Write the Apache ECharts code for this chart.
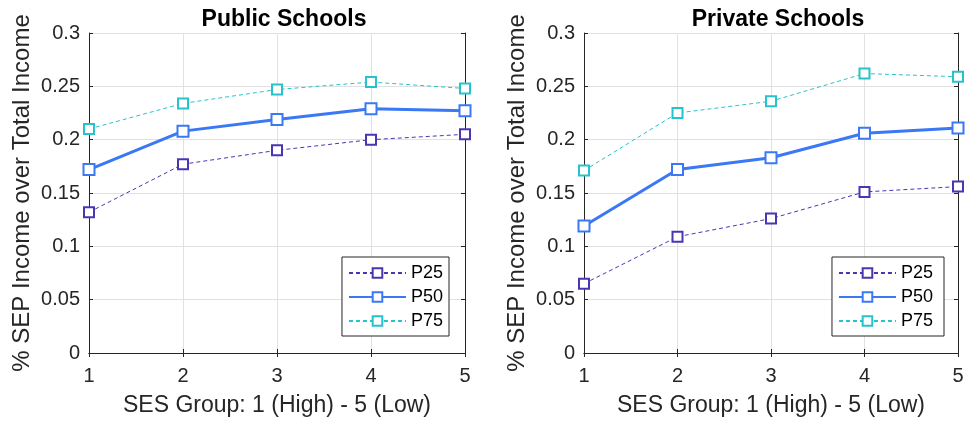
<!DOCTYPE html>
<html><head><meta charset="utf-8">
<script src="https://cdn.jsdelivr.net/npm/echarts@6/dist/echarts.min.js"></script>
<style>html,body{margin:0;padding:0;background:#fff}#c{width:967px;height:422px}</style>
</head><body><div id="c"></div>
<script>
const groups = [1, 2, 3, 4, 5];
const yTicks = [0, 0.05, 0.1, 0.15, 0.2, 0.25, 0.3];
const seriesNames = ['P25', 'P50', 'P75'];
const publicP25 = [0.132, 0.177, 0.190, 0.200, 0.205];
const publicP50 = [0.172, 0.208, 0.219, 0.229, 0.227];
const publicP75 = [0.210, 0.234, 0.247, 0.254, 0.248];
const privateP25 = [0.065, 0.109, 0.126, 0.151, 0.156];
const privateP50 = [0.119, 0.172, 0.183, 0.206, 0.211];
const privateP75 = [0.171, 0.225, 0.236, 0.262, 0.259];
const titles = ['Public Schools', 'Private Schools'];

const colors = ['#4a36b2', '#3a78f5', '#27c3cc'];
const font = 'Liberation Sans, Arial, sans-serif';
const grids = [
  {left: 89, top: 33, width: 376, height: 320},
  {left: 584, top: 33, width: 374, height: 320}
];
const legendRight = [449, 944];
const chart = echarts.init(document.getElementById('c'), null, {renderer: 'canvas'});
const xAxes = [], yAxes = [], series = [], legends = [], titleArr = [];
const datasets = [[publicP25, publicP50, publicP75], [privateP25, privateP50, privateP75]];
grids.forEach((g, gi) => {
  const lineStyle = {color: '#262626', width: 1};
  xAxes.push({
    type: 'value', gridIndex: gi, min: 1, max: 5, interval: 1,
    name: 'SES Group: 1 (High) - 5 (Low)', nameLocation: 'middle', nameGap: 41,
    nameTextStyle: {fontFamily: font, fontSize: 23, color: '#262626'},
    axisLine: {show: true, lineStyle}, axisTick: {show: true, inside: true, length: 4, lineStyle},
    axisLabel: {fontFamily: font, fontSize: 20, color: '#262626', margin: 13},
    splitLine: {show: true, lineStyle: {color: '#e1e1e1', width: 1}}
  });
  xAxes.push({
    type: 'value', gridIndex: gi, min: 1, max: 5, interval: 1, position: 'top',
    axisLine: {show: true, lineStyle}, axisTick: {show: true, inside: true, length: 4, lineStyle},
    axisLabel: {show: false}, splitLine: {show: false}
  });
  yAxes.push({
    type: 'value', gridIndex: gi, min: 0, max: 0.3, interval: 0.05,
    name: '% SEP Income over Total Income', nameLocation: 'middle', nameGap: 55,
    nameTextStyle: {fontFamily: font, fontSize: 24, color: '#262626'},
    axisLine: {show: true, lineStyle}, axisTick: {show: true, inside: true, length: 4, lineStyle},
    axisLabel: {fontFamily: font, fontSize: 20, color: '#262626', margin: 9,
      formatter: v => { const m = yTicks.find(t => Math.abs(t - v) < 1e-9); return m === undefined ? '' : String(+m.toFixed(2)); }},
    splitLine: {show: true, lineStyle: {color: '#e1e1e1', width: 1}}
  });
  yAxes.push({
    type: 'value', gridIndex: gi, min: 0, max: 0.3, interval: 0.05, position: 'right',
    axisLine: {show: true, lineStyle}, axisTick: {show: true, inside: true, length: 4, lineStyle},
    axisLabel: {show: false}, splitLine: {show: false}
  });
  titleArr.push({
    text: titles[gi], left: g.left + g.width / 2 + 2, top: 3, textAlign: 'center',
    textStyle: {fontFamily: font, fontSize: 23, fontWeight: 'bold', color: '#000'}
  });
  datasets[gi].forEach((vals, si) => {
    const main = si === 1;
    series.push({
      name: seriesNames[si] + (gi ? ' ' : ''), type: 'line', xAxisIndex: gi * 2, yAxisIndex: gi * 2,
      data: groups.map((x, i) => [x, vals[i]]),
      symbol: 'emptyRect', symbolSize: main ? 11 : 10,
      itemStyle: {color: colors[si], borderWidth: main ? 2.5 : 1},
      lineStyle: {color: colors[si], width: main ? 3 : 1, type: main ? 'solid' : [4, 3]},
      animation: false, z: main ? 3 : 2
    });
  });
  legends.push({
    data: seriesNames.map(n => n + (gi ? ' ' : '')),
    orient: 'vertical',
    right: 967 - legendRight[gi], top: 257,
    itemWidth: 57, itemHeight: 12, itemGap: 6,
    padding: [7, 6, 6, 6],
    borderColor: '#262626', borderWidth: 1, backgroundColor: '#fff',
    textStyle: {fontFamily: font, fontSize: 18, color: '#000', lineHeight: 18},
    selectedMode: false
  });
});
chart.setOption({
  animation: false,
  title: titleArr,
  grid: grids,
  xAxis: xAxes, yAxis: yAxes, series, legend: legends
});
</script></body></html>
